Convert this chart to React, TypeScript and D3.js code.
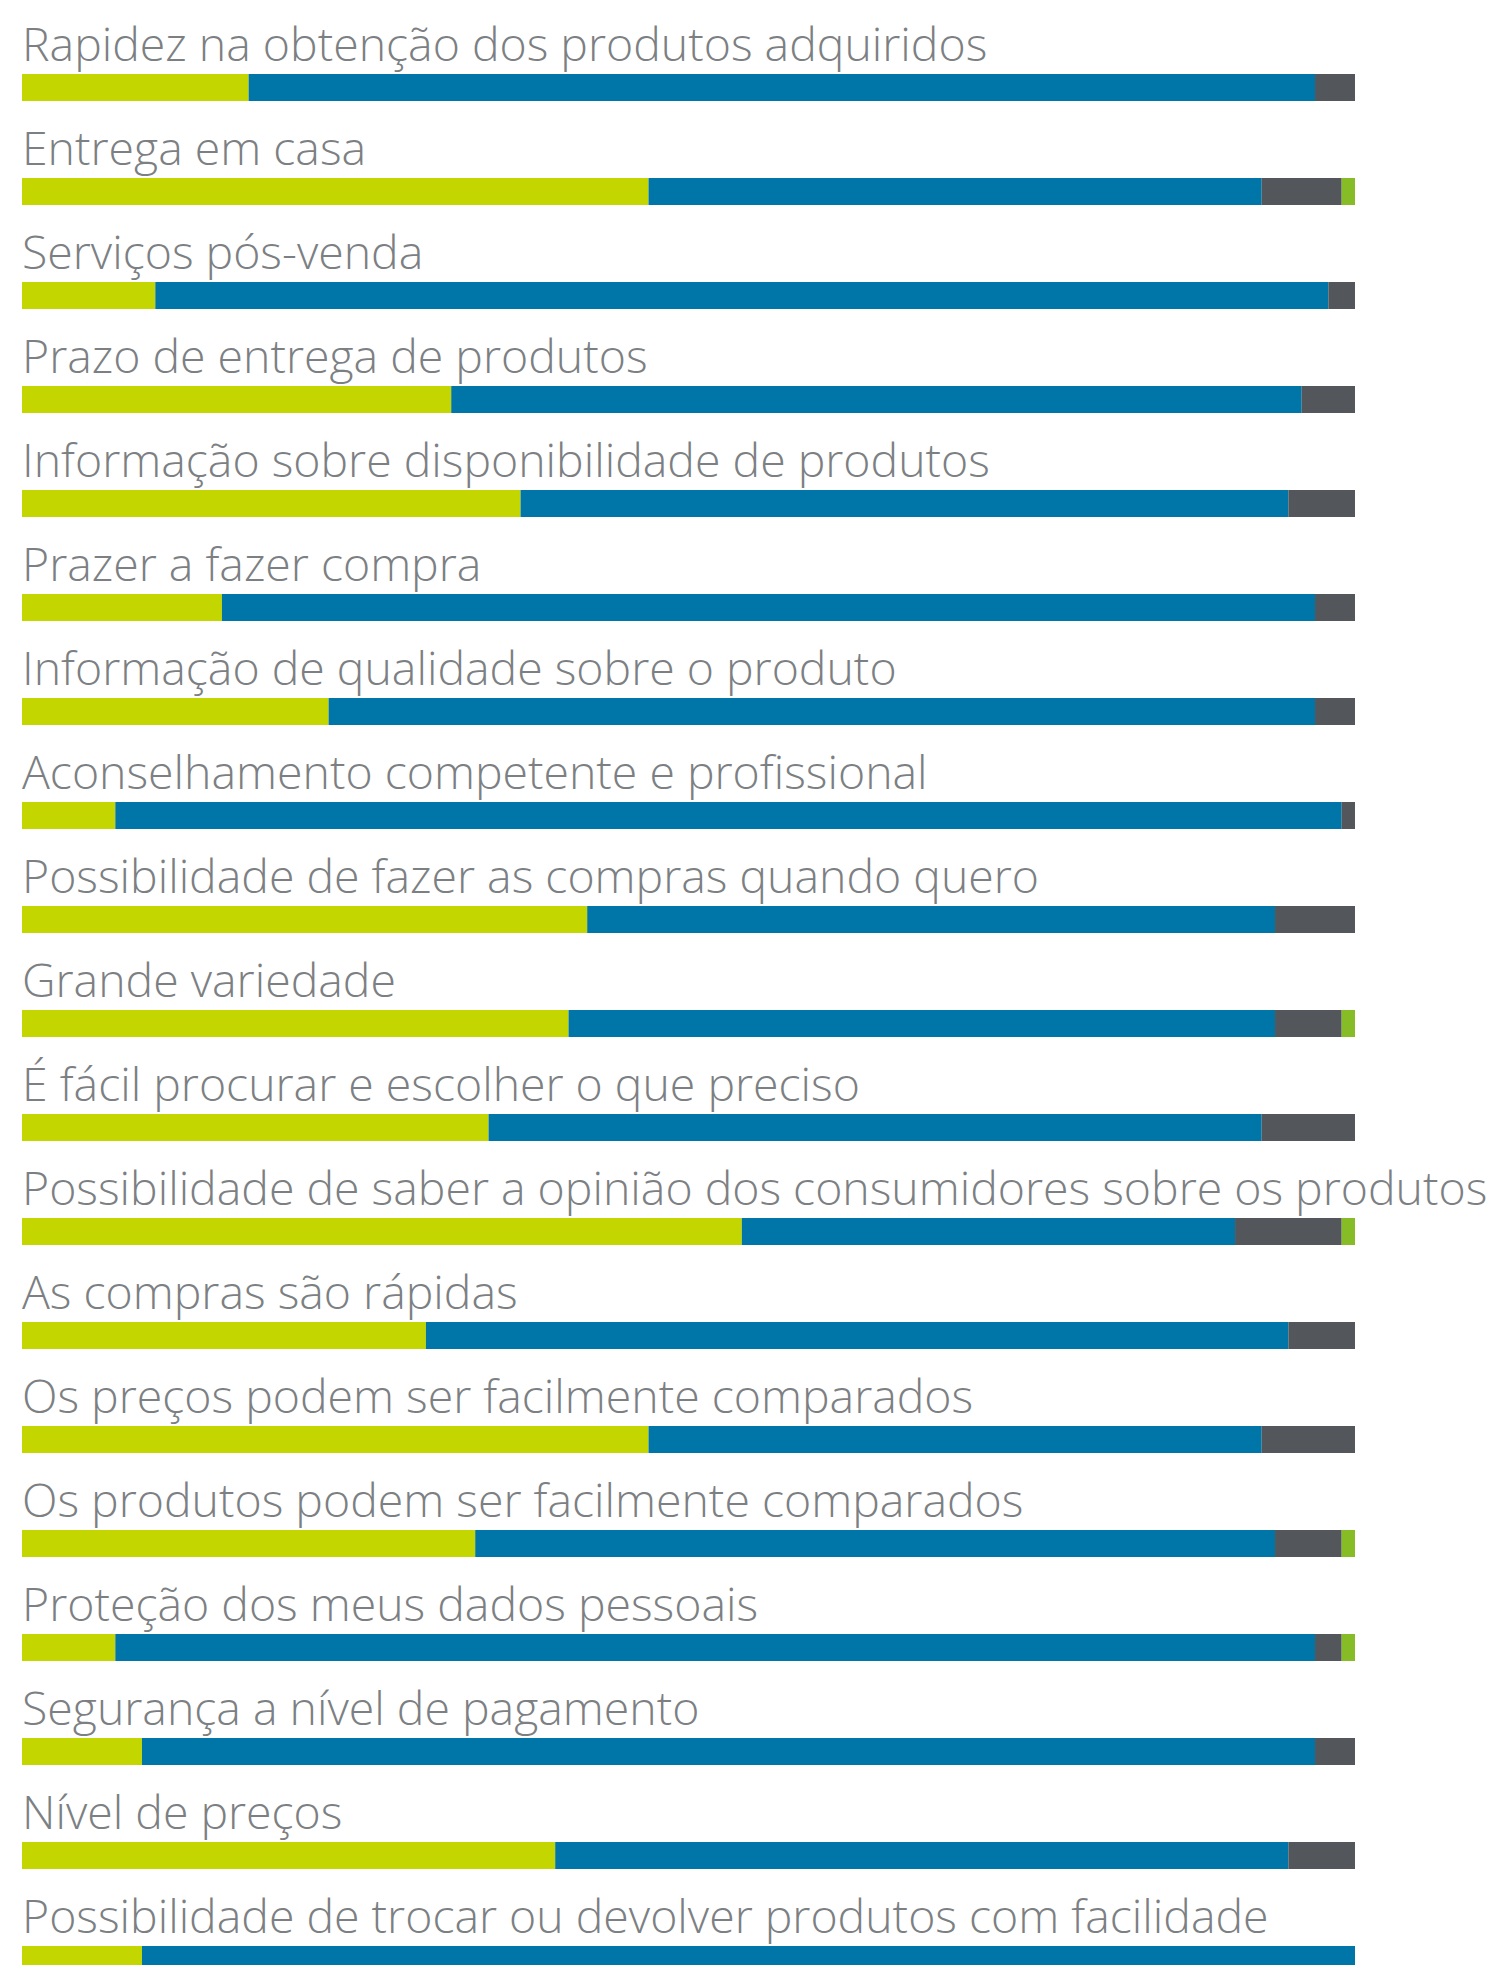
import React from "react";
import * as d3 from "d3";

const categories = [
  "Rapidez na obtenção dos produtos adquiridos",
  "Entrega em casa",
  "Serviços pós-venda",
  "Prazo de entrega de produtos",
  "Informação sobre disponibilidade de produtos",
  "Prazer a fazer compra",
  "Informação de qualidade sobre o produto",
  "Aconselhamento competente e profissional",
  "Possibilidade de fazer as compras quando quero",
  "Grande variedade",
  "É fácil procurar e escolher o que preciso",
  "Possibilidade de saber a opinião dos consumidores sobre os produtos",
  "As compras são rápidas",
  "Os preços podem ser facilmente comparados",
  "Os produtos podem ser facilmente comparados",
  "Proteção dos meus dados pessoais",
  "Segurança a nível de pagamento",
  "Nível de preços",
  "Possibilidade de trocar ou devolver produtos com facilidade",
];

const seriesA = [17, 47, 10, 32.2, 37.4, 15, 23, 7, 42.4, 41, 35, 54, 30.3, 47, 34, 7, 9, 40, 9];
const seriesB = [80, 46, 88, 63.8, 57.6, 82, 74, 92, 51.6, 53, 58, 37, 64.7, 46, 60, 90, 88, 55, 91];
const seriesC = [3, 6, 2, 4, 5, 3, 3, 1, 6, 5, 7, 8, 5, 7, 5, 2, 3, 5, 0];
const seriesD = [0, 1, 0, 0, 0, 0, 0, 0, 0, 1, 0, 1, 0, 0, 1, 1, 0, 0, 0];

const seriesKeys = ["a", "b", "c", "d"];
const colors = ["#c4d600", "#0076a8", "#53565a", "#86bc25"];

export default function App() {
  const width = 1496;
  const height = 1965;
  const rows = categories.map((c, i) => ({
    cat: c,
    a: seriesA[i],
    b: seriesB[i],
    c: seriesC[i],
    d: seriesD[i],
  }));
  const stack = d3.stack<any>().keys(seriesKeys)(rows);
  const x = d3.scaleLinear().domain([0, 100]).range([22, 1355]);
  const step = 104;
  const y0 = 74;
  const barH = 27;
  const yPos = (i: number) => y0 + i * step;

  return (
    <svg
      width={width}
      height={height}
      style={{ position: "absolute", left: 0, top: 0, display: "block" }}
    >
      <rect width={width} height={height} fill="#ffffff" />
      {categories.map((c, i) => (
        <text
          key={c}
          x={22}
          y={yPos(i) - 13}
          fontFamily="'Open Sans'"
          fontWeight={300}
          fontSize={46.4}
          fill="#7c8083"
        >
          {c}
        </text>
      ))}
      {stack.map((layer, k) => (
        <g key={k} fill={colors[k]}>
          {layer.map((d, i) =>
            d[1] - d[0] > 0 ? (
              <rect
                key={i}
                x={x(d[0])}
                y={yPos(i)}
                width={x(d[1]) - x(d[0])}
                height={barH}
              />
            ) : null
          )}
        </g>
      ))}
    </svg>
  );
}
